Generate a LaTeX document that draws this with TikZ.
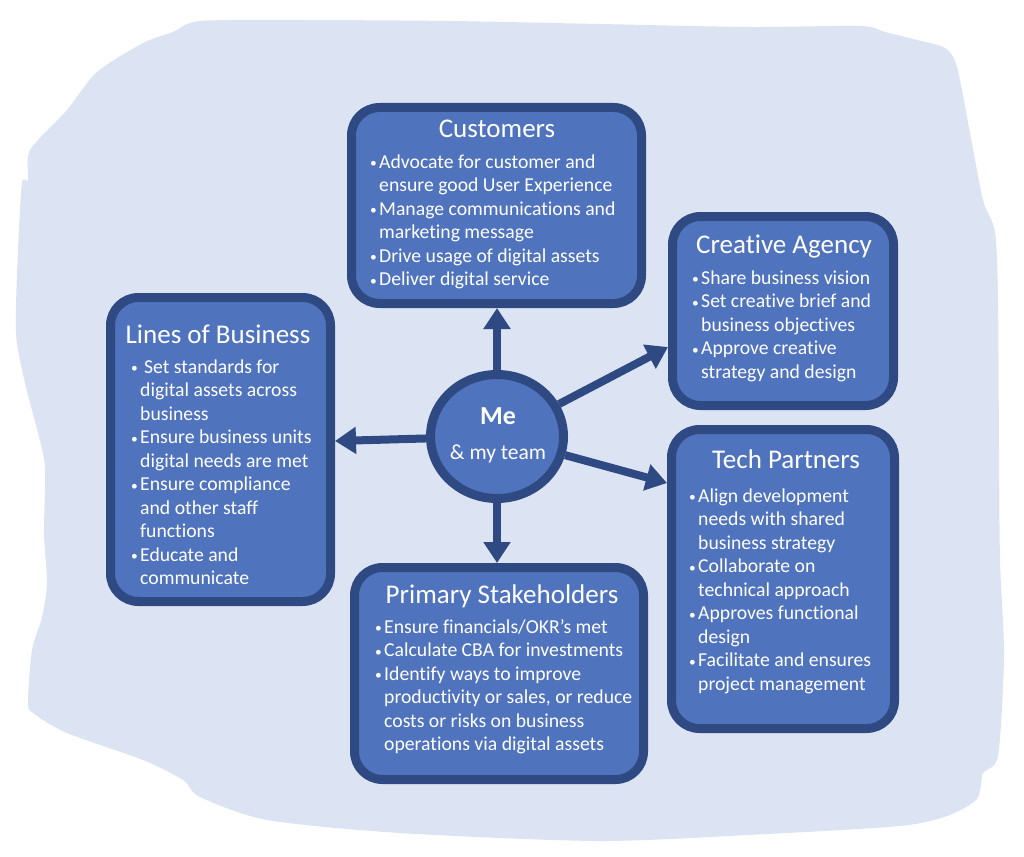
\documentclass[tikz,border=0pt]{standalone}
\usepackage{fontspec}
\setmainfont{Carlito}[Ligatures={NoCommon}]
\usetikzlibrary{arrows.meta,shapes.geometric}
\definecolor{blobc}{RGB}{220,227,242}
\definecolor{boxc}{RGB}{80,115,190}
\definecolor{edgec}{RGB}{47,74,130}
\newcommand{\bul}{\makebox[9pt][l]{\fontsize{13.5}{13.5}\selectfont\raisebox{0.6pt}{•}}}
\newcommand{\ind}{\hspace*{9pt}}
\begin{document}
\begin{tikzpicture}[x=1pt,y=-1pt,
  box/.style={rectangle, draw=edgec, fill=boxc, line width=9pt, rounded corners=28pt, inner sep=0pt},
  ttl/.style={text=white, font=\fontsize{27}{32}\selectfont, anchor=base, inner sep=0pt},
  body/.style={text=white, font=\fontsize{19.7}{23.5}\selectfont, align=left, anchor=north west, inner sep=0pt},
  link/.style={draw=edgec, line width=8pt, -{Triangle[width=26pt,length=21pt]}}
]
\useasboundingbox (0,0) rectangle (1024,856);
% background blob
\fill[blobc] plot[smooth cycle, tension=0.45] coordinates {(200,21) (300,20) (450,21) (600,24) (750,27) (860,26) (885,32) (917,40) (945,48) (957,67) (970,133) (983,200) (995,232) (998,300) (999,450) (1000,560) (1004,656) (998,756) (983,773) (977,799) (947,816) (900,826) (767,834) (600,841) (400,833) (267,820) (200,797) (183,780) (143,760) (67,733) (33,713) (28,702) (32,650) (42,617) (47,583) (44,533) (45,467) (38,433) (25,383) (16,333) (18,250) (22,183) (28,180) (30,150) (67,110) (97,72) (143,43) (173,32)};

% boxes
\node[box, minimum width=290pt, minimum height=196pt] (cust) at (496.5,205.5) {};
\node[box, minimum width=221pt, minimum height=189pt] (creative) at (783,311) {};
\node[box, minimum width=223pt, minimum height=299pt] (tech) at (783,579) {};
\node[box, minimum width=220pt, minimum height=304pt] (lob) at (220.5,449.5) {};
\node[box, minimum width=289pt, minimum height=212pt] (prim) at (499,673.5) {};
\node[ellipse, draw=edgec, fill=boxc, line width=9pt, minimum width=133pt, minimum height=124pt, inner sep=0pt] (me) at (497,436.5) {};

% titles
\node[ttl] (cust-t) at (497,137) {Customers};
\node[ttl] (creative-t) at (784,253) {Creative Agency};
\node[ttl] (tech-t) at (786,468) {Tech Partners};
\node[ttl] (lob-t) at (218,343) {Lines of Business};
\node[ttl] (prim-t) at (502,603) {Primary Stakeholders};
\node[text=white, font=\bfseries\fontsize{26}{30}\selectfont, anchor=base, inner sep=0pt] (me-t) at (498,424) {Me};
\node[text=white, font=\fontsize{21.5}{26}\selectfont, anchor=base, inner sep=0pt] (me-s) at (498,459) {\& my team};

% bodies
\node[body] (cust-b) at (370,151.5) {\strut\bul Advocate for customer and\\
\ind ensure good User Experience\\
\bul Manage communications and\\
\ind marketing message\\
\bul Drive usage of digital assets\\
\bul Deliver digital service};

\node[body] (creative-b) at (692,267.5) {\strut\bul Share business vision\\
\bul Set creative brief and\\
\ind business objectives\\
\bul Approve creative\\
\ind strategy and design};

\node[body] (tech-b) at (689,485.5) {\strut\bul Align development\\
\ind needs with shared\\
\ind business strategy\\
\bul Collaborate on\\
\ind technical approach\\
\bul Approves functional\\
\ind design\\
\bul Facilitate and ensures\\
\ind project management};

\node[body] (lob-b) at (131,356.5) {\strut\bul\hspace{4pt}Set standards for\\
\ind digital assets across\\
\ind business\\
\bul Ensure business units\\
\ind digital needs are met\\
\bul Ensure compliance\\
\ind and other staff\\
\ind functions\\
\bul Educate and\\
\ind communicate};

\node[body] (prim-b) at (375,616.5) {\strut\bul Ensure financials/OKR’s met\\
\bul Calculate CBA for investments\\
\bul Identify ways to improve\\
\ind productivity or sales, or reduce\\
\ind costs or risks on business\\
\ind operations via digital assets};

% connectors
\draw[link] (me) -- (me |- cust.south);
\draw[link] (me) -- (me |- prim.north);
\draw[link] (me) -- ([yshift=8.5pt]lob.east);
\draw[link] (me) -- ([yshift=-36pt]creative.west);
\draw[link] (me) -- ([yshift=96pt]tech.west);
\end{tikzpicture}
\end{document}
